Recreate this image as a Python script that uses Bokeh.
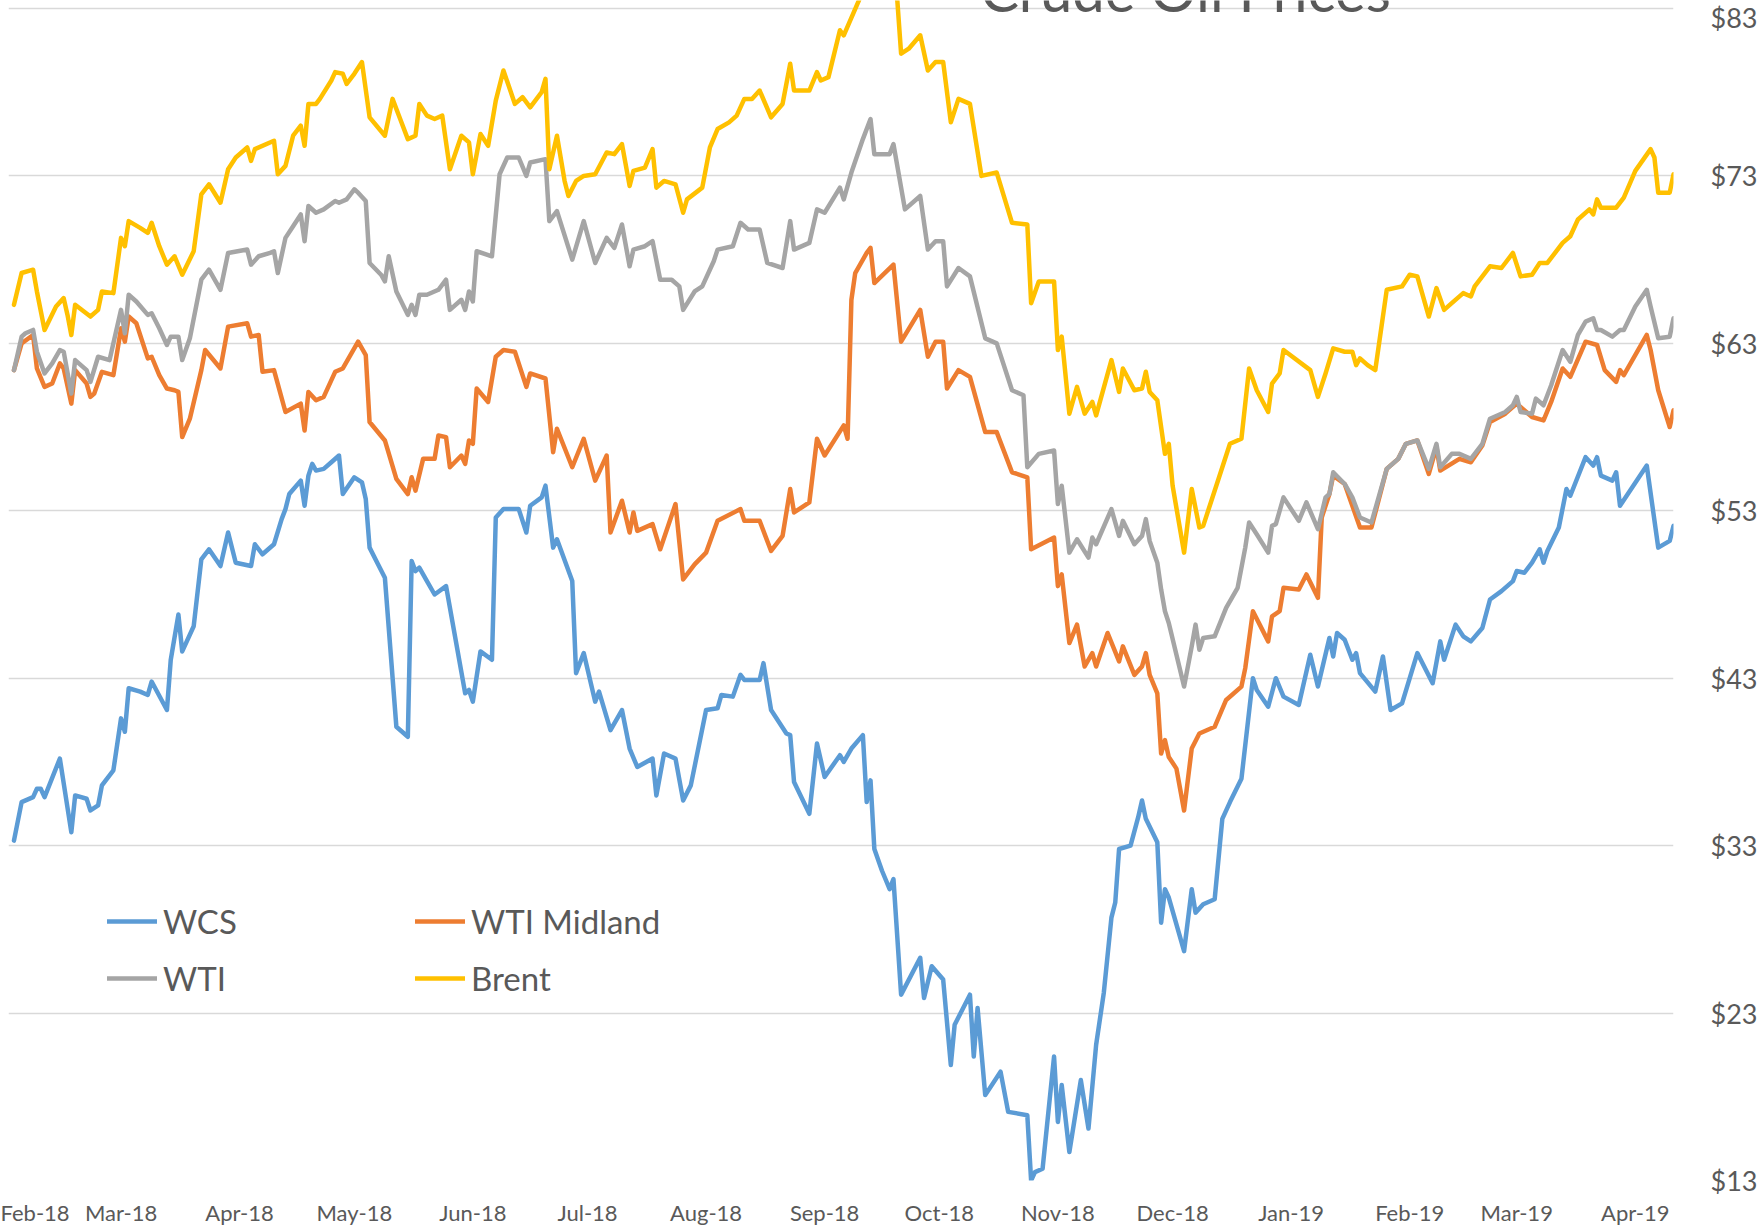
import pandas as pd
from bokeh.plotting import figure
from bokeh.models import (Range1d, FixedTicker, DatetimeTickFormatter, NumeralTickFormatter,
                          Legend, LegendItem, Label)
from bokeh.embed import file_html
from bokeh.resources import INLINE

# ---------------- data ----------------
brent_dates = [
    "2018-02-01", "2018-02-03", "2018-02-06", "2018-02-07", "2018-02-09", "2018-02-12", "2018-02-14", "2018-02-15",
    "2018-02-16", "2018-02-17", "2018-02-21", "2018-02-23", "2018-02-24", "2018-02-27", "2018-03-01", "2018-03-02",
    "2018-03-03", "2018-03-06", "2018-03-08", "2018-03-09", "2018-03-11", "2018-03-13", "2018-03-15", "2018-03-17",
    "2018-03-20", "2018-03-22", "2018-03-24", "2018-03-27", "2018-03-29", "2018-03-31", "2018-04-03", "2018-04-04",
    "2018-04-05", "2018-04-10", "2018-04-11", "2018-04-13", "2018-04-15", "2018-04-17", "2018-04-18", "2018-04-19",
    "2018-04-21", "2018-04-22", "2018-04-25", "2018-04-26", "2018-04-28", "2018-04-29", "2018-05-01", "2018-05-03",
    "2018-05-05", "2018-05-09", "2018-05-11", "2018-05-13", "2018-05-15", "2018-05-17", "2018-05-18", "2018-05-20",
    "2018-05-22", "2018-05-24", "2018-05-26", "2018-05-29", "2018-05-31", "2018-06-01", "2018-06-03", "2018-06-05",
    "2018-06-07", "2018-06-09", "2018-06-12", "2018-06-14", "2018-06-16", "2018-06-19", "2018-06-20", "2018-06-21",
    "2018-06-23", "2018-06-25", "2018-06-26", "2018-06-28", "2018-06-30", "2018-07-03", "2018-07-06", "2018-07-08",
    "2018-07-10", "2018-07-12", "2018-07-13", "2018-07-16", "2018-07-18", "2018-07-19", "2018-07-21", "2018-07-24",
    "2018-07-26", "2018-07-27", "2018-07-31", "2018-08-02", "2018-08-04", "2018-08-07", "2018-08-09", "2018-08-11",
    "2018-08-13", "2018-08-15", "2018-08-18", "2018-08-21", "2018-08-23", "2018-08-24", "2018-08-28", "2018-08-30",
    "2018-08-31", "2018-09-02", "2018-09-05", "2018-09-06", "2018-09-10", "2018-09-12", "2018-09-14", "2018-09-17",
    "2018-09-20", "2018-09-21", "2018-09-23", "2018-09-26", "2018-09-28", "2018-09-30", "2018-10-02", "2018-10-04",
    "2018-10-06", "2018-10-09", "2018-10-12", "2018-10-16", "2018-10-20", "2018-10-24", "2018-10-25", "2018-10-27",
    "2018-10-31", "2018-11-01", "2018-11-02", "2018-11-04", "2018-11-06", "2018-11-08", "2018-11-10", "2018-11-11",
    "2018-11-15", "2018-11-17", "2018-11-18", "2018-11-21", "2018-11-23", "2018-11-24", "2018-11-25", "2018-11-27",
    "2018-11-29", "2018-11-30", "2018-12-01", "2018-12-04", "2018-12-06", "2018-12-08", "2018-12-09", "2018-12-13",
    "2018-12-16", "2018-12-19", "2018-12-21", "2018-12-23", "2018-12-26", "2018-12-27", "2018-12-29", "2018-12-30",
    "2019-01-06", "2019-01-08", "2019-01-10", "2019-01-12", "2019-01-15", "2019-01-17", "2019-01-18", "2019-01-19",
    "2019-01-21", "2019-01-23", "2019-01-26", "2019-01-30", "2019-02-01", "2019-02-03", "2019-02-06", "2019-02-08",
    "2019-02-10", "2019-02-12", "2019-02-15", "2019-02-17", "2019-02-18", "2019-02-22", "2019-02-25", "2019-02-28",
    "2019-03-02", "2019-03-05", "2019-03-07", "2019-03-09", "2019-03-13", "2019-03-15", "2019-03-17", "2019-03-20",
    "2019-03-21", "2019-03-22", "2019-03-23", "2019-03-27", "2019-03-29", "2019-04-01", "2019-04-05", "2019-04-06",
    "2019-04-07", "2019-04-10", "2019-04-11"]
brent = [
    65.3, 67.2, 67.4, 66.1, 63.8, 65.2, 65.7, 64.7,
    63.5, 65.3, 64.6, 65.0, 66.1, 66.0, 69.3, 68.8,
    70.3, 69.9, 69.6, 70.2, 68.8, 67.7, 68.2, 67.1,
    68.5, 71.9, 72.5, 71.4, 73.4, 74.1, 74.7, 73.9,
    74.6, 75.1, 73.1, 73.6, 75.4, 76.0, 74.8, 77.3,
    77.3, 77.6, 78.7, 79.2, 79.1, 78.5, 79.1, 79.8,
    76.5, 75.4, 77.6, 76.4, 75.2, 75.4, 77.3, 76.6,
    76.4, 76.6, 73.4, 75.4, 75.0, 73.1, 75.5, 74.8,
    77.5, 79.3, 77.3, 77.7, 77.1, 78.0, 78.8, 73.4,
    75.4, 72.7, 71.8, 72.7, 73.0, 73.1, 74.4, 74.3,
    74.9, 72.4, 73.3, 73.5, 74.6, 72.3, 72.7, 72.5,
    70.8, 71.6, 72.3, 74.7, 75.8, 76.2, 76.6, 77.6,
    77.6, 78.1, 76.5, 77.3, 79.7, 78.1, 78.1, 79.2,
    78.7, 78.9, 81.7, 81.4, 83.5, 84.8, 85.6, 84.9,
    83.5, 80.3, 80.6, 81.4, 79.3, 79.8, 79.8, 76.2,
    77.6, 77.3, 73.0, 73.2, 70.2, 70.1, 65.4, 66.7,
    66.7, 62.6, 63.4, 58.8, 60.4, 58.8, 59.5, 58.7,
    62.0, 60.1, 61.5, 60.2, 60.3, 61.3, 60.1, 59.6,
    56.4, 57.0, 54.5, 50.5, 54.3, 52.0, 52.1, 54.9,
    57.0, 57.3, 61.5, 60.2, 58.9, 60.6, 61.2, 62.6,
    61.4, 59.8, 61.2, 62.7, 62.5, 62.5, 61.7, 62.1,
    61.7, 61.4, 66.2, 66.4, 67.1, 67.0, 64.6, 66.3,
    65.0, 65.4, 66.0, 65.8, 66.4, 67.6, 67.5, 68.4,
    67.0, 67.1, 67.8, 67.8, 69.0, 69.4, 70.4, 71.0,
    70.7, 71.6, 71.1, 71.1, 71.7, 73.3, 74.6, 74.1,
    72.0, 72.0, 73.1]

wti_dates = [
    "2018-02-01", "2018-02-03", "2018-02-04", "2018-02-06", "2018-02-07", "2018-02-09", "2018-02-11", "2018-02-13",
    "2018-02-14", "2018-02-16", "2018-02-17", "2018-02-20", "2018-02-21", "2018-02-23", "2018-02-26", "2018-03-01",
    "2018-03-02", "2018-03-03", "2018-03-05", "2018-03-08", "2018-03-09", "2018-03-11", "2018-03-13", "2018-03-14",
    "2018-03-16", "2018-03-17", "2018-03-19", "2018-03-22", "2018-03-24", "2018-03-27", "2018-03-29", "2018-04-03",
    "2018-04-04", "2018-04-06", "2018-04-09", "2018-04-10", "2018-04-11", "2018-04-13", "2018-04-15", "2018-04-17",
    "2018-04-18", "2018-04-19", "2018-04-21", "2018-04-23", "2018-04-26", "2018-04-27", "2018-04-29", "2018-05-01",
    "2018-05-02", "2018-05-04", "2018-05-05", "2018-05-08", "2018-05-09", "2018-05-10", "2018-05-12", "2018-05-15",
    "2018-05-16", "2018-05-17", "2018-05-18", "2018-05-20", "2018-05-23", "2018-05-25", "2018-05-26", "2018-05-29",
    "2018-05-30", "2018-05-31", "2018-06-01", "2018-06-02", "2018-06-06", "2018-06-08", "2018-06-10", "2018-06-13",
    "2018-06-15", "2018-06-16", "2018-06-20", "2018-06-21", "2018-06-23", "2018-06-27", "2018-06-30", "2018-07-03",
    "2018-07-06", "2018-07-08", "2018-07-10", "2018-07-12", "2018-07-13", "2018-07-16", "2018-07-18", "2018-07-20",
    "2018-07-23", "2018-07-25", "2018-07-26", "2018-07-29", "2018-07-31", "2018-08-03", "2018-08-04", "2018-08-08",
    "2018-08-10", "2018-08-12", "2018-08-15", "2018-08-17", "2018-08-21", "2018-08-23", "2018-08-24", "2018-08-28",
    "2018-08-30", "2018-09-01", "2018-09-05", "2018-09-06", "2018-09-08", "2018-09-11", "2018-09-13", "2018-09-14",
    "2018-09-18", "2018-09-19", "2018-09-22", "2018-09-26", "2018-09-28", "2018-09-30", "2018-10-02", "2018-10-03",
    "2018-10-06", "2018-10-09", "2018-10-13", "2018-10-16", "2018-10-20", "2018-10-23", "2018-10-24", "2018-10-27",
    "2018-10-31", "2018-11-01", "2018-11-02", "2018-11-04", "2018-11-06", "2018-11-09", "2018-11-10", "2018-11-11",
    "2018-11-15", "2018-11-17", "2018-11-18", "2018-11-21", "2018-11-23", "2018-11-24", "2018-11-25", "2018-11-27",
    "2018-11-28", "2018-11-29", "2018-11-30", "2018-12-04", "2018-12-06", "2018-12-07", "2018-12-08", "2018-12-09",
    "2018-12-12", "2018-12-15", "2018-12-18", "2018-12-20", "2018-12-21", "2018-12-23", "2018-12-26", "2018-12-27",
    "2018-12-28", "2018-12-30", "2019-01-03", "2019-01-05", "2019-01-08", "2019-01-10", "2019-01-11", "2019-01-12",
    "2019-01-15", "2019-01-17", "2019-01-19", "2019-01-22", "2019-01-26", "2019-01-29", "2019-01-31", "2019-02-03",
    "2019-02-06", "2019-02-08", "2019-02-09", "2019-02-12", "2019-02-14", "2019-02-17", "2019-02-20", "2019-02-22",
    "2019-02-26", "2019-02-28", "2019-03-01", "2019-03-02", "2019-03-05", "2019-03-06", "2019-03-08", "2019-03-10",
    "2019-03-13", "2019-03-15", "2019-03-17", "2019-03-19", "2019-03-21", "2019-03-22", "2019-03-23", "2019-03-26",
    "2019-03-28", "2019-03-29", "2019-04-01", "2019-04-04", "2019-04-05", "2019-04-07", "2019-04-10", "2019-04-11"]
wti = [
    61.4, 63.4, 63.6, 63.8, 62.5, 61.2, 61.8, 62.6,
    62.5, 60.0, 62.0, 61.4, 60.7, 62.2, 62.0, 65.0,
    63.6, 65.9, 65.5, 64.7, 64.8, 63.9, 62.9, 63.4,
    63.4, 62.0, 63.3, 66.8, 67.4, 66.2, 68.4, 68.6,
    67.7, 68.2, 68.4, 68.5, 67.2, 69.3, 70.0, 70.7,
    69.1, 71.2, 70.8, 71.0, 71.5, 71.4, 71.6, 72.2,
    72.0, 71.5, 67.8, 67.1, 66.7, 68.2, 66.1, 64.7,
    65.3, 64.7, 65.9, 65.9, 66.2, 66.8, 65.0, 65.6,
    65.0, 66.1, 65.5, 68.5, 68.2, 73.1, 74.1, 74.1,
    73.0, 73.8, 74.0, 70.3, 70.9, 68.0, 70.3, 67.8,
    69.3, 68.7, 70.1, 67.6, 68.6, 68.8, 69.1, 66.8,
    66.8, 66.4, 65.0, 66.1, 66.4, 67.9, 68.6, 68.8,
    70.2, 69.8, 69.8, 67.8, 67.5, 70.3, 68.6, 69.0,
    71.0, 70.8, 72.3, 71.6, 73.2, 75.2, 76.4, 74.3,
    74.3, 74.9, 71.0, 71.8, 68.6, 69.1, 69.1, 66.4,
    67.5, 67.0, 63.3, 63.0, 60.2, 59.9, 55.6, 56.4,
    56.6, 53.4, 54.5, 50.5, 51.3, 50.2, 51.4, 51.0,
    53.1, 51.5, 52.4, 51.0, 51.5, 52.5, 51.2, 49.9,
    48.3, 47.0, 46.3, 42.5, 44.9, 46.2, 44.7, 45.4,
    45.5, 47.2, 48.4, 50.8, 52.3, 51.6, 50.5, 52.1,
    52.2, 53.8, 52.4, 53.5, 51.9, 53.8, 54.0, 55.3,
    54.6, 53.8, 52.6, 52.3, 55.5, 56.1, 57.0, 57.2,
    55.5, 57.0, 55.6, 56.4, 56.4, 56.1, 57.0, 58.5,
    58.9, 59.3, 59.8, 58.9, 58.8, 59.7, 59.3, 60.5,
    62.6, 61.9, 63.5, 64.3, 64.5, 63.8, 63.8, 63.4,
    63.8, 63.8, 65.2, 66.2, 65.2, 63.3, 63.4, 64.5]

midland_dates = [
    "2018-02-01", "2018-02-03", "2018-02-06", "2018-02-07", "2018-02-09", "2018-02-11", "2018-02-13", "2018-02-14",
    "2018-02-16", "2018-02-17", "2018-02-20", "2018-02-21", "2018-02-22", "2018-02-24", "2018-02-27", "2018-03-01",
    "2018-03-02", "2018-03-03", "2018-03-05", "2018-03-08", "2018-03-09", "2018-03-11", "2018-03-13", "2018-03-15",
    "2018-03-16", "2018-03-17", "2018-03-19", "2018-03-22", "2018-03-23", "2018-03-27", "2018-03-29", "2018-04-03",
    "2018-04-04", "2018-04-06", "2018-04-07", "2018-04-10", "2018-04-13", "2018-04-17", "2018-04-18", "2018-04-19",
    "2018-04-21", "2018-04-23", "2018-04-26", "2018-04-28", "2018-05-02", "2018-05-04", "2018-05-05", "2018-05-09",
    "2018-05-12", "2018-05-15", "2018-05-16", "2018-05-17", "2018-05-19", "2018-05-22", "2018-05-23", "2018-05-25",
    "2018-05-26", "2018-05-29", "2018-05-30", "2018-05-31", "2018-06-01", "2018-06-02", "2018-06-05", "2018-06-07",
    "2018-06-09", "2018-06-12", "2018-06-15", "2018-06-16", "2018-06-20", "2018-06-22", "2018-06-23", "2018-06-27",
    "2018-06-30", "2018-07-03", "2018-07-06", "2018-07-07", "2018-07-10", "2018-07-12", "2018-07-13", "2018-07-14",
    "2018-07-18", "2018-07-20", "2018-07-24", "2018-07-26", "2018-07-29", "2018-08-01", "2018-08-04", "2018-08-10",
    "2018-08-11", "2018-08-15", "2018-08-18", "2018-08-21", "2018-08-23", "2018-08-24", "2018-08-28", "2018-08-30",
    "2018-09-01", "2018-09-06", "2018-09-07", "2018-09-08", "2018-09-09", "2018-09-12", "2018-09-13", "2018-09-14",
    "2018-09-19", "2018-09-21", "2018-09-26", "2018-09-28", "2018-09-30", "2018-10-02", "2018-10-03", "2018-10-06",
    "2018-10-09", "2018-10-13", "2018-10-16", "2018-10-20", "2018-10-24", "2018-10-25", "2018-10-31", "2018-11-01",
    "2018-11-02", "2018-11-04", "2018-11-06", "2018-11-08", "2018-11-10", "2018-11-11", "2018-11-14", "2018-11-17",
    "2018-11-18", "2018-11-21", "2018-11-23", "2018-11-24", "2018-11-25", "2018-11-27", "2018-11-28", "2018-11-29",
    "2018-11-30", "2018-12-02", "2018-12-04", "2018-12-06", "2018-12-08", "2018-12-12", "2018-12-15", "2018-12-19",
    "2018-12-20", "2018-12-22", "2018-12-26", "2018-12-27", "2018-12-29", "2018-12-30", "2019-01-03", "2019-01-05",
    "2019-01-08", "2019-01-09", "2019-01-11", "2019-01-12", "2019-01-15", "2019-01-17", "2019-01-19", "2019-01-22",
    "2019-01-26", "2019-01-29", "2019-01-31", "2019-02-03", "2019-02-06", "2019-02-08", "2019-02-09", "2019-02-14",
    "2019-02-17", "2019-02-20", "2019-02-22", "2019-02-26", "2019-03-01", "2019-03-05", "2019-03-08", "2019-03-10",
    "2019-03-13", "2019-03-15", "2019-03-19", "2019-03-22", "2019-03-24", "2019-03-27", "2019-03-28", "2019-03-29",
    "2019-04-04", "2019-04-05", "2019-04-07", "2019-04-10", "2019-04-11"]
midland = [
    61.4, 63.0, 63.5, 61.5, 60.4, 60.6, 61.8, 61.5,
    59.4, 61.4, 60.6, 59.8, 60.0, 61.3, 61.1, 63.9,
    63.1, 64.6, 64.2, 62.1, 62.2, 61.1, 60.3, 60.2,
    60.1, 57.4, 58.5, 61.4, 62.6, 61.5, 64.0, 64.2,
    63.4, 63.5, 61.3, 61.4, 58.9, 59.4, 57.8, 60.1,
    59.6, 59.8, 61.3, 61.5, 63.1, 62.3, 58.3, 57.2,
    54.9, 54.0, 55.0, 54.2, 56.1, 56.1, 57.5, 57.4,
    55.6, 56.3, 55.8, 57.2, 57.0, 60.3, 59.5, 62.2,
    62.6, 62.5, 60.4, 61.2, 60.9, 56.5, 57.9, 55.6,
    57.3, 54.8, 56.3, 51.7, 53.6, 51.7, 52.9, 51.8,
    52.2, 50.7, 53.4, 48.9, 49.8, 50.5, 52.4, 53.1,
    52.4, 52.4, 50.6, 51.5, 54.3, 52.9, 53.5, 57.3,
    56.3, 58.1, 57.3, 65.6, 67.2, 68.4, 68.7, 66.6,
    67.7, 63.1, 65.0, 62.2, 63.1, 63.1, 60.3, 61.4,
    61.0, 57.7, 57.7, 55.3, 55.0, 50.7, 51.4, 48.5,
    49.2, 45.1, 46.2, 43.7, 44.5, 43.7, 45.7, 44.0,
    44.9, 43.2, 43.7, 44.5, 43.2, 42.1, 38.5, 39.3,
    38.3, 37.6, 35.1, 38.8, 39.7, 40.1, 41.7, 42.5,
    43.6, 47.0, 45.2, 46.7, 47.0, 48.4, 48.3, 49.2,
    47.8, 52.6, 54.0, 55.1, 54.6, 53.3, 52.0, 52.0,
    55.5, 56.1, 57.0, 57.2, 55.2, 56.8, 55.4, 56.1,
    55.9, 56.9, 58.3, 58.8, 59.4, 58.6, 58.4, 59.5,
    61.5, 61.0, 63.1, 62.9, 61.4, 60.7, 61.4, 61.1,
    63.5, 62.6, 60.2, 58.0, 59.0]

wcs_dates = [
    "2018-02-01", "2018-02-03", "2018-02-06", "2018-02-07", "2018-02-08", "2018-02-09", "2018-02-13", "2018-02-16",
    "2018-02-17", "2018-02-20", "2018-02-21", "2018-02-23", "2018-02-24", "2018-02-27", "2018-03-01", "2018-03-02",
    "2018-03-03", "2018-03-06", "2018-03-08", "2018-03-09", "2018-03-13", "2018-03-14", "2018-03-16", "2018-03-17",
    "2018-03-20", "2018-03-22", "2018-03-24", "2018-03-27", "2018-03-29", "2018-03-31", "2018-04-04", "2018-04-05",
    "2018-04-07", "2018-04-10", "2018-04-12", "2018-04-13", "2018-04-14", "2018-04-17", "2018-04-18", "2018-04-19",
    "2018-04-20", "2018-04-21", "2018-04-23", "2018-04-25", "2018-04-27", "2018-04-28", "2018-05-01", "2018-05-03",
    "2018-05-04", "2018-05-05", "2018-05-07", "2018-05-09", "2018-05-12", "2018-05-15", "2018-05-16", "2018-05-17",
    "2018-05-18", "2018-05-20", "2018-05-22", "2018-05-25", "2018-05-30", "2018-05-31", "2018-06-01", "2018-06-03",
    "2018-06-06", "2018-06-07", "2018-06-09", "2018-06-13", "2018-06-15", "2018-06-16", "2018-06-19", "2018-06-20",
    "2018-06-22", "2018-06-23", "2018-06-27", "2018-06-28", "2018-06-30", "2018-07-03", "2018-07-04", "2018-07-07",
    "2018-07-10", "2018-07-12", "2018-07-14", "2018-07-18", "2018-07-19", "2018-07-21", "2018-07-24", "2018-07-26",
    "2018-07-28", "2018-08-01", "2018-08-04", "2018-08-05", "2018-08-08", "2018-08-10", "2018-08-11", "2018-08-15",
    "2018-08-16", "2018-08-18", "2018-08-22", "2018-08-23", "2018-08-24", "2018-08-28", "2018-08-30", "2018-09-01",
    "2018-09-05", "2018-09-06", "2018-09-08", "2018-09-11", "2018-09-12", "2018-09-13", "2018-09-14", "2018-09-16",
    "2018-09-18", "2018-09-19", "2018-09-21", "2018-09-26", "2018-09-27", "2018-09-29", "2018-10-02", "2018-10-04",
    "2018-10-05", "2018-10-09", "2018-10-10", "2018-10-11", "2018-10-13", "2018-10-17", "2018-10-19", "2018-10-24",
    "2018-10-25", "2018-10-26", "2018-10-28", "2018-10-31", "2018-11-01", "2018-11-02", "2018-11-04", "2018-11-07",
    "2018-11-09", "2018-11-11", "2018-11-13", "2018-11-15", "2018-11-16", "2018-11-17", "2018-11-20", "2018-11-22",
    "2018-11-23", "2018-11-24", "2018-11-27", "2018-11-28", "2018-11-29", "2018-11-30", "2018-12-04", "2018-12-06",
    "2018-12-07", "2018-12-09", "2018-12-12", "2018-12-14", "2018-12-16", "2018-12-19", "2018-12-22", "2018-12-23",
    "2018-12-26", "2018-12-28", "2018-12-30", "2019-01-03", "2019-01-06", "2019-01-08", "2019-01-11", "2019-01-12",
    "2019-01-13", "2019-01-15", "2019-01-17", "2019-01-18", "2019-01-19", "2019-01-23", "2019-01-25", "2019-01-27",
    "2019-01-30", "2019-02-03", "2019-02-07", "2019-02-09", "2019-02-10", "2019-02-13", "2019-02-15", "2019-02-17",
    "2019-02-20", "2019-02-22", "2019-02-25", "2019-02-28", "2019-03-01", "2019-03-03", "2019-03-05", "2019-03-07",
    "2019-03-08", "2019-03-09", "2019-03-12", "2019-03-14", "2019-03-15", "2019-03-19", "2019-03-21", "2019-03-22",
    "2019-03-23", "2019-03-26", "2019-03-27", "2019-03-28", "2019-04-04", "2019-04-07", "2019-04-10", "2019-04-11"]
wcs = [
    33.3, 35.6, 35.9, 36.4, 36.4, 35.9, 38.2, 33.8,
    36.0, 35.8, 35.1, 35.4, 36.6, 37.5, 40.6, 39.8,
    42.4, 42.2, 42.0, 42.8, 41.1, 44.1, 46.8, 44.6,
    46.1, 50.1, 50.7, 49.7, 51.7, 49.9, 49.7, 51.0,
    50.4, 51.0, 52.5, 53.1, 54.0, 54.8, 53.3, 55.1,
    55.8, 55.4, 55.5, 55.9, 56.3, 54.0, 55.0, 54.7,
    53.7, 50.8, 49.9, 49.0, 40.1, 39.5, 50.0, 49.4,
    49.6, 48.8, 48.0, 48.5, 42.1, 42.3, 41.6, 44.6,
    44.1, 52.6, 53.1, 53.1, 51.7, 53.3, 53.8, 54.5,
    50.8, 51.3, 48.8, 43.3, 44.5, 41.6, 42.2, 39.9,
    41.1, 38.8, 37.7, 38.2, 36.0, 38.5, 38.2, 35.7,
    36.6, 41.1, 41.2, 42.0, 41.9, 43.2, 42.9, 42.9,
    43.9, 41.1, 39.7, 39.6, 36.8, 34.9, 39.1, 37.1,
    38.4, 38.0, 38.8, 39.6, 35.6, 36.9, 32.8, 31.5,
    30.4, 31.0, 24.1, 26.3, 23.9, 25.8, 25.0, 19.9,
    22.3, 24.1, 20.4, 23.3, 18.1, 19.5, 17.1, 16.9,
    13.0, 13.5, 13.7, 20.4, 16.5, 18.7, 14.7, 19.0,
    16.1, 21.1, 24.2, 28.7, 29.6, 32.8, 33.0, 34.7,
    35.7, 34.6, 33.2, 28.4, 30.4, 29.9, 26.7, 30.4,
    29.0, 29.5, 29.8, 34.6, 35.6, 37.0, 43.0, 42.3,
    41.3, 43.0, 41.9, 41.4, 44.4, 42.5, 45.4, 44.3,
    45.7, 45.3, 44.1, 44.5, 43.3, 42.2, 44.3, 41.1,
    41.5, 44.5, 42.7, 45.2, 44.1, 46.2, 45.5, 45.2,
    46.0, 47.7, 48.2, 48.8, 49.4, 49.3, 49.9, 50.7,
    49.9, 50.6, 52.0, 54.3, 53.9, 56.2, 55.7, 56.2,
    55.1, 54.8, 55.3, 53.3, 55.7, 50.8, 51.2, 52.1]

tick_months = ["2018-02-01", "2018-03-01", "2018-04-01", "2018-05-01", "2018-06-01", "2018-07-01",
               "2018-08-01", "2018-09-01", "2018-10-01", "2018-11-01", "2018-12-01", "2019-01-01",
               "2019-02-01", "2019-03-01", "2019-04-01"]
tick_labels = ["Feb-18", "Mar-18", "Apr-18", "May-18", "Jun-18", "Jul-18", "Aug-18", "Sep-18",
               "Oct-18", "Nov-18", "Dec-18", "Jan-19", "Feb-19", "Mar-19", "Apr-19"]
price_ticks = [13, 23, 33, 43, 53, 63, 73, 83]

series_names = ["WCS", "WTI Midland", "WTI", "Brent"]
series_colors = ["#5B9BD5", "#ED7D31", "#A5A5A5", "#FFC000"]

# ---------------- figure ----------------
TEXT = "#595959"
FONT = "Lato"

x_start = pd.Timestamp("2018-02-01") - pd.Timedelta(days=1.43)
x_end = x_start + pd.Timedelta(days=435.42)

p = figure(width=1760, height=1228, x_axis_type="datetime", y_axis_location="right",
           x_range=Range1d(x_start, x_end), y_range=Range1d(13, 83.477),
           output_backend="svg", toolbar_location=None,
           min_border_left=8, min_border_top=0, min_border_bottom=46, min_border_right=80)
p.outline_line_color = None
p.background_fill_color = "white"
p.border_fill_color = "white"

tick_ms = [pd.Timestamp(d).timestamp() * 1000.0 for d in tick_months]
p.xaxis.ticker = FixedTicker(ticks=tick_ms)
p.xaxis.formatter = DatetimeTickFormatter(days="%b-%y", months="%b-%y", years="%b-%y")
p.xaxis.major_label_overrides = {t: lab for t, lab in zip(tick_ms, tick_labels)}
p.xaxis.major_label_text_font = FONT
p.xaxis.major_label_text_font_size = "22px"
p.xaxis.major_label_text_color = TEXT
p.xaxis.major_label_standoff = 12
p.xaxis.axis_line_color = None
p.xaxis.major_tick_line_color = None
p.xaxis.minor_tick_line_color = None

p.yaxis.ticker = FixedTicker(ticks=price_ticks)
p.yaxis.formatter = NumeralTickFormatter(format="$0")
p.yaxis.major_label_text_font = FONT
p.yaxis.major_label_text_font_size = "27px"
p.yaxis.major_label_text_color = TEXT
p.yaxis.major_label_standoff = 31
p.yaxis.axis_line_color = None
p.yaxis.major_tick_line_color = None
p.yaxis.minor_tick_line_color = None

p.xgrid.grid_line_color = None
p.ygrid.grid_line_color = "#D9D9D9"
p.ygrid.grid_line_width = 1.5

series = [(wcs_dates, wcs), (midland_dates, midland), (wti_dates, wti), (brent_dates, brent)]
renderers = {}
for name, color, (dts, vals) in zip(series_names, series_colors, series):
    r = p.line(x=pd.to_datetime(dts), y=vals, line_color=color, line_width=4.5,
               line_join="round", line_cap="round")
    renderers[name] = r

legend_cols = [["WCS", "WTI"], ["WTI Midland", "Brent"]]
legend_x = [99, 407]
for names, lx in zip(legend_cols, legend_x):
    lg = Legend(items=[LegendItem(label=n, renderers=[renderers[n]]) for n in names],
                location=(lx, 176), orientation="vertical")
    lg.padding = 0
    lg.margin = 0
    lg.spacing = 5
    lg.glyph_width = 50
    lg.glyph_height = 52
    lg.label_height = 52
    lg.label_standoff = 6
    lg.border_line_color = None
    lg.background_fill_alpha = 0
    lg.label_text_font = FONT
    lg.label_text_font_size = "33px"
    lg.label_text_color = TEXT
    p.add_layout(lg)

title = Label(x=1177, y=1191.5, x_units="screen", y_units="screen", text="Crude Oil Prices",
              text_align="center", text_baseline="alphabetic", text_font=FONT,
              text_font_size="58px", text_color=TEXT)
p.add_layout(title)

open("out.html", "w").write(file_html(p, INLINE))
